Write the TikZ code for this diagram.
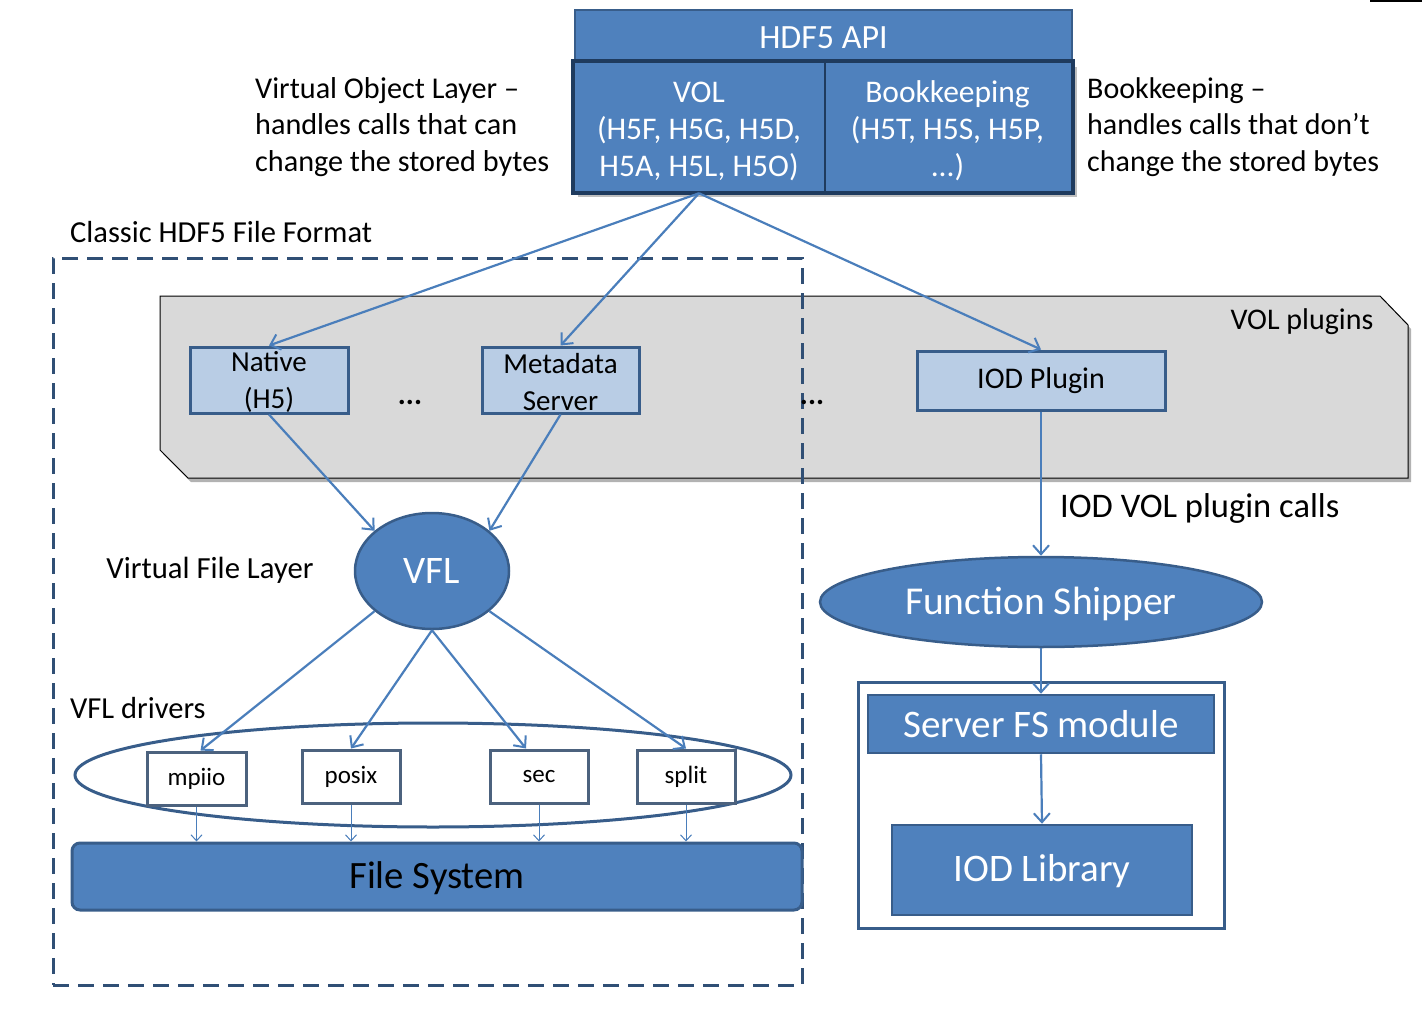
\documentclass[tikz,border=0pt]{standalone}
\usepackage{fontspec}
\setmainfont{Carlito}
\usetikzlibrary{arrows.meta,shapes.geometric,calc}
\definecolor{obfill}{HTML}{4F81BD}
\definecolor{obline}{HTML}{385D8A}
\definecolor{obdark}{HTML}{1F3B5E}
\definecolor{oblight}{HTML}{B9CDE5}
\definecolor{arrowc}{HTML}{4A7EBB}
\definecolor{grayfill}{HTML}{D9D9D9}
\newcommand{\fs}[2]{\fontsize{#1}{#2}\selectfont}
\newcommand{\lowr}[2]{\raisebox{-#1}[\height][\depth]{#2}}
\begin{document}
\begin{tikzpicture}[x=1pt,y=-1pt,
  bluebox/.style={draw=obline, fill=obfill, line width=2.5pt, text=white, inner sep=0pt, align=center},
  lightbox/.style={draw=obline, fill=oblight, line width=3pt, text=black, inner sep=0pt, align=center},
  drvbox/.style={draw=obdark!80, fill=white, line width=3pt, text=black, inner sep=0pt, font=\fs{25}{30}},
  blueell/.style={ellipse, draw=obline, fill=obfill, line width=2.5pt, text=white, inner sep=0pt},
  plain/.style={inner sep=0pt, align=left, text=black},
  conn/.style={draw=arrowc, line width=2.2pt, -{Straight Barb[length=9pt,width=16pt,line width=2pt]}},
  thinconn/.style={draw=arrowc, line width=1pt, -{Straight Barb[length=6pt,width=11pt,line width=1pt]}},
  dashbox/.style={draw=obline!85!black, line width=3pt, dash pattern=on 16pt off 9pt, inner sep=0pt},
]
\useasboundingbox (0,0) rectangle (1422,1025);
\fill[black] (1370,0) rectangle (1422,2);

% top API block
\node[bluebox, minimum width=497, minimum height=50, font=\fs{34}{36}] (api) at (823.5,35) {\lowr{3pt}{HDF5 API}};
\fill[black, opacity=0.25] (578,67) rectangle (1077,197);
\node[bluebox, draw=none, minimum width=249, minimum height=130, font=\fs{31.5}{37}] (vol) at (699,127) {\lowr{4pt}{\parbox{240pt}{\centering VOL\\(H5F, H5G, H5D,\\H5A, H5L, H5O)}}};
\node[bluebox, draw=none, minimum width=249, minimum height=130, font=\fs{31.5}{37}] (book) at (947.5,127) {\lowr{4pt}{\parbox{240pt}{\centering Bookkeeping\\(H5T, H5S, H5P,\\...)}}};
\draw[obdark, line width=4pt] (vol.north west) rectangle (book.south east);
\draw[obdark, line width=2.5pt] (vol.north east) -- (vol.south east);

\node[plain, anchor=north west, font=\fs{30.2}{36.5}] (voltext) at (255,77) {Virtual Object Layer –\\handles calls that can\\change the stored bytes};
\node[plain, anchor=north west, font=\fs{30}{36.5}] (booktext) at (1087,77) {Bookkeeping –\\handles calls that don’t\\change the stored bytes};

\node[plain, anchor=west, font=\fs{30.5}{36}] (classiclbl) at (70,232) {Classic HDF5 File Format};

% VOL plugins band
\fill[black, opacity=0.3] (163,300) -- (1383,300) -- (1411,329) -- (1411,482) -- (191,482) -- (163,454) -- cycle;
\draw[black, line width=1pt, fill=grayfill] (160,296) -- (1380,296) -- (1408,325) -- (1408,478) -- (188,478) -- (160,450) -- cycle;

% classic dashed frame
\node[dashbox, minimum width=749, minimum height=727] (classic) at (427.5,621.5) {};

\node[plain, font=\fs{30}{36}] (vplbl) at (1302,322) {VOL plugins};
\node[lightbox, minimum width=158, minimum height=66, font=\fs{29}{37}] (native) at (269,380) {\lowr{2pt}{\parbox{150pt}{\centering Native\\(H5)}}};
\node[lightbox, minimum width=157, minimum height=66, font=\fs{29}{37}] (meta) at (560.5,380) {\lowr{2pt}{\parbox{150pt}{\centering Metadata\\Server}}};
\node[lightbox, minimum width=248, minimum height=59, font=\fs{30}{36}] (iodp) at (1041,380.5) {IOD Plugin};
\node[plain, font=\bfseries\fs{30}{36}] (dots1) at (410,402) {...};
\node[plain, font=\bfseries\fs{30}{36}] (dots2) at (812,402) {...};

% VFL
\node[blueell, minimum width=154, minimum height=116, font=\fs{39}{40}] (vfl) at (432,571) {VFL};
\node[plain, font=\fs{30.7}{36}] (vfllbl) at (210,570) {Virtual File Layer};
\node[plain, anchor=west, font=\fs{30.5}{36}] (drvlbl) at (70,708) {VFL drivers};
\node[ellipse, draw=obline, line width=3pt, fill=white, minimum width=716, minimum height=104] (drvell) at (433,775) {};
\node[drvbox, minimum width=99, minimum height=53] (mpiio) at (196.5,778.5) {mpiio};
\node[drvbox, minimum width=98, minimum height=53] (posix) at (351,776.5) {posix};
\node[drvbox, minimum width=98, minimum height=53] (sec) at (539,776.5) {sec};
\node[drvbox, minimum width=98, minimum height=53] (split) at (686,776.5) {split};
\node[bluebox, rounded corners=8pt, line width=3pt, text=black, minimum width=730, minimum height=67, font=\fs{38.7}{40}] (fsys) at (437,876.5) {\lowr{2pt}{File System}};

% IOD side
\node[blueell, minimum width=442, minimum height=90, font=\fs{39.5}{40}] (fship) at (1041,602) {\lowr{2pt}{Function Shipper}};
\node[plain, anchor=west, font=\fs{34.5}{36}] (callslbl) at (1060,508) {IOD VOL plugin calls};
\node[draw=obline, line width=3pt, fill=white, minimum width=366, minimum height=246, inner sep=0pt] (server) at (1041,805) {};
\node[bluebox, minimum width=346, minimum height=58, font=\fs{39}{40}] (sfs) at (1041,724) {Server FS module};
\node[bluebox, minimum width=300, minimum height=90, font=\fs{39}{40}] (iodlib) at (1042,870) {\lowr{1pt}{IOD Library}};

% connectors
\draw[conn] (vol.south) -- (native.north);
\draw[conn] (vol.south) -- (meta.north);
\draw[conn] (vol.south) -- (iodp.north);
\draw[conn] (native.south) -- (vfl.145);
\draw[conn] (meta.south) -- (vfl.35);
\draw[conn] (vfl.215) -- ($(mpiio.north)+(4,0)$);
\draw[conn] (vfl.south) -- (posix.north);
\draw[conn] (vfl.south) -- ($(sec.north)+(-13,0)$);
\draw[conn] (vfl.325) -- (split.north);
\draw[thinconn] (mpiio.south) -- (mpiio.south |- fsys.north);
\draw[thinconn] (posix.south) -- (posix.south |- fsys.north);
\draw[thinconn] (sec.south) -- (sec.south |- fsys.north);
\draw[thinconn] (split.south) -- (split.south |- fsys.north);
\draw[conn] (iodp.south) -- (fship.north);
\draw[conn] (fship.south) -- (sfs.north);
\draw[conn] (sfs.south) -- (iodlib.north);
\end{tikzpicture}
\end{document}
